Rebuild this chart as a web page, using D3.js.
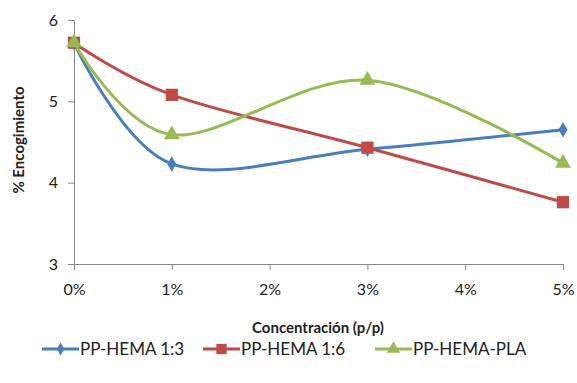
<!DOCTYPE html>
<html>
<head>
<meta charset="utf-8">
<script src="https://cdn.jsdelivr.net/npm/d3@7"></script>
<style>
  body { margin: 0; background: #fff; }
  svg text { font-family: Lato, "Open Sans", sans-serif; fill: #222; }
</style>
</head>
<body>
<svg id="chart" width="577" height="383"></svg>
<script>
// categorias do eixo x
var categorias = ["0%", "1%", "2%", "3%", "4%", "5%"];
var yTicks = [3, 4, 5, 6];

// indices das categorias com dados (2% e 4% sem pontos)
var pontosX = [0, 1, 3, 5];
var hema13 = [5.72, 4.23, 4.41, 4.65];
var hema16 = [5.72, 5.08, 4.43, 3.76];
var hemaPla = [5.72, 4.59, 5.26, 4.24];

var series = [
    {nome: "PP-HEMA 1:3", valores: hema13, cor: "#4A7EBB", marca: d3.symbolDiamond, tam: 70},
    {nome: "PP-HEMA 1:6", valores: hema16, cor: "#BE4B48", marca: d3.symbolSquare, tam: 150},
    {nome: "PP-HEMA-PLA", valores: hemaPla, cor: "#98B954", marca: d3.symbolTriangle, tam: 110}
];

var svg = d3.select("#chart");
var esq = 74, dir = 563, topo = 20, base = 264;

var x = d3.scalePoint().domain(d3.range(categorias.length)).range([esq, dir]);
var y = d3.scaleLinear().domain([3, 6]).range([base, topo]);

// eixo y
var eixoY = svg.append("g").attr("transform", "translate(" + esq + ",0)")
    .call(d3.axisLeft(y).tickValues(yTicks).tickFormat(d3.format("d")).tickSize(6).tickPadding(10));
eixoY.select(".domain").attr("stroke", "#888");
eixoY.selectAll(".tick line").attr("stroke", "#888");
eixoY.selectAll("text").style("font-size", "16px");

// eixo x
var eixoX = svg.append("g").attr("transform", "translate(0," + base + ")")
    .call(d3.axisBottom(x).tickFormat(function(i) { return categorias[i]; }).tickSize(6).tickPadding(14).tickSizeOuter(0));
eixoX.select(".domain").attr("stroke", "#888");
eixoX.selectAll(".tick line").attr("stroke", "#888");
eixoX.selectAll("text").style("font-size", "16px");

svg.append("text")
    .attr("transform", "translate(24,140) rotate(-90)")
    .attr("text-anchor", "middle")
    .style("font-size", "15px").style("font-weight", "bold")
    .text("% Encogimiento");

svg.append("text")
    .attr("x", 318).attr("y", 333)
    .attr("text-anchor", "middle")
    .style("font-size", "15px").style("font-weight", "bold")
    .text("Concentración (p/p)");

var linha = d3.line()
    .x(function(d) { return x(d[0]); })
    .y(function(d) { return y(d[1]); })
    .curve(d3.curveCardinal.tension(0));

series.forEach(function(s) {
    var dados = pontosX.map(function(px, i) { return [px, s.valores[i]]; });
    svg.append("path").datum(dados)
        .attr("d", linha)
        .attr("fill", "none")
        .attr("stroke", s.cor)
        .attr("stroke-width", 3);
    svg.selectAll(null).data(dados).enter().append("path")
        .attr("d", d3.symbol().type(s.marca).size(s.tam))
        .attr("transform", function(d) { return "translate(" + x(d[0]) + "," + y(d[1]) + ")"; })
        .attr("fill", s.cor);
});

// legenda
var legX = [42, 203, 375];
series.forEach(function(s, i) {
    var g = svg.append("g").attr("transform", "translate(" + legX[i] + ",349)");
    g.append("line").attr("x1", 0).attr("x2", 37).attr("stroke", s.cor).attr("stroke-width", 3);
    g.append("path").attr("d", d3.symbol().type(s.marca).size(s.tam * 0.7))
        .attr("transform", "translate(18.5,0)").attr("fill", s.cor);
    g.append("text").attr("x", 38).attr("y", 6).style("font-size", "17px").text(s.nome);
});
</script>
</body>
</html>
